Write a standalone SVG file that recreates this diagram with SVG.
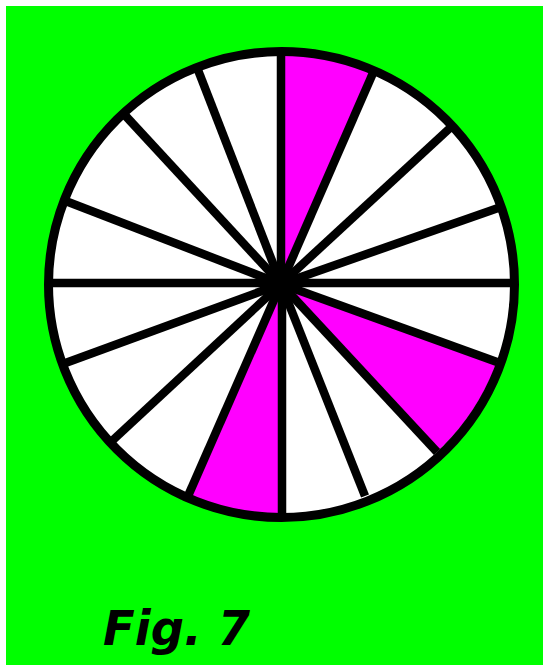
<svg xmlns="http://www.w3.org/2000/svg" width="543" height="665" viewBox="0 0 543 665">
<style>
.spoke{stroke:#000;stroke-width:8.5;stroke-linecap:butt;fill:none}
.wedge{fill:#ff00ff;stroke:none}
.label{font-family:"DejaVu Sans","Liberation Sans",sans-serif;font-weight:bold;font-style:italic;font-size:48px;fill:#000}
</style>
<rect x="0" y="0" width="543" height="665" fill="#ffffff"/>
<rect x="6" y="6" width="537" height="659" fill="#00ff00"/>
<g id="wheel">
<circle cx="281.5" cy="284.5" r="233" fill="#ffffff"/>
<path class="wedge" d="M281,284 L281,51.5 A233,233 0 0 1 373,72 Z"/>
<path class="wedge" d="M281,284 L497,362 A233,233 0 0 1 437,452 Z"/>
<path class="wedge" d="M281,284 L282,517.5 A233,233 0 0 1 188,497 Z"/>
</g>
<g id="connectors">
<line class="spoke" x1="281" y1="284" x2="281" y2="52"/>
<line class="spoke" x1="281" y1="284" x2="373" y2="73"/>
<line class="spoke" x1="281" y1="284" x2="450" y2="128"/>
<line class="spoke" x1="281" y1="284" x2="501" y2="207"/>
<line class="spoke" x1="281" y1="283" x2="515" y2="283"/>
<line class="spoke" x1="281" y1="284" x2="497" y2="362"/>
<line class="spoke" x1="281" y1="284" x2="437" y2="452"/>
<line class="spoke" x1="281" y1="284" x2="365" y2="496"/>
<line class="spoke" x1="282" y1="284" x2="282" y2="517"/>
<line class="spoke" x1="281" y1="284" x2="188" y2="496"/>
<line class="spoke" x1="281" y1="284" x2="113" y2="440"/>
<line class="spoke" x1="281" y1="284" x2="60" y2="365"/>
<line class="spoke" x1="281" y1="283" x2="48" y2="283"/>
<line class="spoke" x1="281" y1="284" x2="63" y2="200"/>
<line class="spoke" x1="281" y1="284" x2="122" y2="112"/>
<line class="spoke" x1="281" y1="284" x2="198" y2="70"/>
</g>
<g id="rim">
<circle cx="281.5" cy="284.5" r="233" fill="none" stroke="#000" stroke-width="9"/>
<circle cx="281" cy="285" r="14" fill="#000"/>
</g>
<g id="caption">
<text class="label" x="103" y="645" textLength="147" lengthAdjust="spacingAndGlyphs">Fig. 7</text>
</g>
</svg>
